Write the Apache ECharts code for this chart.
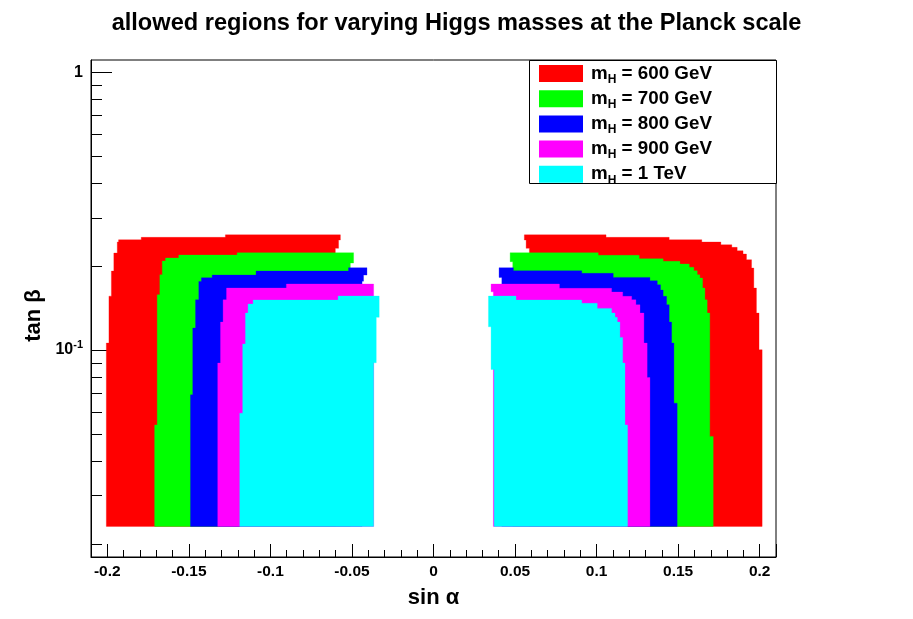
<!DOCTYPE html>
<html>
<head>
<meta charset="utf-8">
<script src="https://cdn.jsdelivr.net/npm/echarts@6/dist/echarts.min.js"></script>
<style>
html,body{margin:0;padding:0;background:#ffffff;}
#chart{width:913px;height:619px;}
</style>
</head>
<body>
<div id="chart"></div>
<script>
const FONT = '"Liberation Sans", Arial, Helvetica, sans-serif';

const titleText = 'allowed regions for varying Higgs masses at the Planck scale';
const xTitle = 'sin α';
const yTitle = 'tan β';

const xRange = [-0.21, 0.21];
const yRange = [0.018, 1.107];
const yMinorTicks = [0.02, 0.03, 0.04, 0.05, 0.06, 0.07, 0.08, 0.09, 0.2, 0.3, 0.4, 0.5, 0.6, 0.7, 0.8, 0.9];

const masses = ['600 GeV', '700 GeV', '800 GeV', '900 GeV', '1 TeV'];
const colors = ['#ff0000', '#00ff00', '#0000ff', '#ff00ff', '#00ffff'];

// outlines of the allowed regions, [sin alpha, tan beta]
const region600Left = [
  [-0.2006,0.0232],[-0.2006,0.1060],[-0.1990,0.1060],[-0.1990,0.1564],[-0.1975,0.1564],[-0.1975,0.1925],
  [-0.1960,0.1925],[-0.1960,0.2235],[-0.1939,0.2235],[-0.1939,0.2449],[-0.1931,0.2449],[-0.1931,0.2496],
  [-0.1792,0.2496],[-0.1792,0.2546],[-0.1276,0.2546],[-0.1276,0.2600],[-0.0571,0.2600],[-0.0571,0.2490],
  [-0.0582,0.2490],[-0.0582,0.2324],[-0.0602,0.2324],[-0.0602,0.0232]
];
const region600Right = [
  [0.0588,0.0232],[0.0588,0.2324],[0.0568,0.2324],[0.0568,0.2490],[0.0557,0.2490],[0.0557,0.2600],
  [0.1058,0.2600],[0.1058,0.2546],[0.1445,0.2546],[0.1445,0.2496],[0.1645,0.2496],[0.1645,0.2449],
  [0.1762,0.2449],[0.1762,0.2394],[0.1829,0.2394],[0.1829,0.2343],[0.1862,0.2343],[0.1862,0.2278],
  [0.1898,0.2278],[0.1898,0.2217],[0.1919,0.2217],[0.1919,0.2115],[0.1950,0.2115],[0.1950,0.1974],
  [0.1964,0.1974],[0.1964,0.1672],[0.1980,0.1672],[0.1980,0.1359],[0.1996,0.1359],[0.1996,0.1003],
  [0.2015,0.1003],[0.2015,0.0232]
];
const region700Left = [
  [-0.1710,0.0232],[-0.1710,0.0538],[-0.1694,0.0538],[-0.1694,0.1582],[-0.1678,0.1582],[-0.1678,0.1867],
  [-0.1663,0.1867],[-0.1663,0.2092],[-0.1643,0.2092],[-0.1643,0.2145],[-0.1562,0.2145],[-0.1562,0.2198],
  [-0.1204,0.2198],[-0.1204,0.2241],[-0.0490,0.2241],[-0.0490,0.2057],[-0.0510,0.2057],[-0.0510,0.0232]
];
const region700Right = [
  [0.0486,0.0232],[0.0486,0.2080],[0.0470,0.2080],[0.0470,0.2241],[0.1010,0.2241],[0.1010,0.2193],
  [0.1261,0.2193],[0.1261,0.2132],[0.1408,0.2132],[0.1408,0.2087],[0.1511,0.2087],[0.1511,0.2041],
  [0.1568,0.2041],[0.1568,0.1986],[0.1596,0.1986],[0.1596,0.1930],[0.1617,0.1930],[0.1617,0.1867],
  [0.1633,0.1867],[0.1633,0.1816],[0.1650,0.1816],[0.1650,0.1672],[0.1664,0.1672],[0.1664,0.1517],
  [0.1678,0.1517],[0.1678,0.1359],[0.1694,0.1359],[0.1694,0.0489],[0.1715,0.0489],[0.1715,0.0232]
];
const region800Left = [
  [-0.1490,0.0232],[-0.1490,0.0690],[-0.1476,0.0690],[-0.1476,0.1200],[-0.1459,0.1200],[-0.1459,0.1517],
  [-0.1439,0.1517],[-0.1439,0.1767],[-0.1423,0.1767],[-0.1423,0.1821],[-0.1357,0.1821],[-0.1357,0.1862],
  [-0.1088,0.1862],[-0.1088,0.1925],[-0.0521,0.1925],[-0.0521,0.1979],[-0.0408,0.1979],[-0.0408,0.1862],
  [-0.0429,0.1862],[-0.0429,0.1770],[-0.0438,0.1770],[-0.0438,0.0232]
];
const region800Right = [
  [0.0419,0.0232],[0.0419,0.1827],[0.0402,0.1827],[0.0402,0.1979],[0.0490,0.1979],[0.0490,0.1930],
  [0.0909,0.1930],[0.0909,0.1889],[0.1102,0.1889],[0.1102,0.1827],[0.1327,0.1827],[0.1327,0.1776],
  [0.1372,0.1776],[0.1372,0.1718],[0.1392,0.1718],[0.1392,0.1644],[0.1408,0.1644],[0.1408,0.1561],
  [0.1429,0.1561],[0.1429,0.1456],[0.1445,0.1456],[0.1445,0.1261],[0.1460,0.1261],[0.1460,0.1060],
  [0.1474,0.1060],[0.1474,0.0644],[0.1494,0.0644],[0.1494,0.0232]
];
const region900Left = [
  [-0.1323,0.0232],[-0.1323,0.0898],[-0.1306,0.0898],[-0.1306,0.1261],[-0.1290,0.1261],[-0.1290,0.1517],
  [-0.1269,0.1517],[-0.1269,0.1672],[-0.0902,0.1672],[-0.0902,0.1729],[-0.0367,0.1729],[-0.0367,0.0232]
];
const region900Right = [
  [0.0367,0.0232],[0.0367,0.1621],[0.0353,0.1621],[0.0353,0.1729],[0.0772,0.1729],[0.0772,0.1668],
  [0.1092,0.1668],[0.1092,0.1617],[0.1160,0.1617],[0.1160,0.1561],[0.1215,0.1561],[0.1215,0.1517],
  [0.1241,0.1517],[0.1241,0.1456],[0.1266,0.1456],[0.1266,0.1359],[0.1290,0.1359],[0.1290,0.1060],
  [0.1310,0.1060],[0.1310,0.0797],[0.1327,0.0797],[0.1327,0.0232]
];
const region1000Left = [
  [-0.1188,0.0232],[-0.1188,0.0593],[-0.1170,0.0593],[-0.1170,0.1051],[-0.1153,0.1051],[-0.1153,0.1359],
  [-0.1137,0.1359],[-0.1137,0.1464],[-0.1106,0.1464],[-0.1106,0.1514],[-0.0585,0.1514],[-0.0585,0.1565],
  [-0.0333,0.1565],[-0.0333,0.1312],[-0.0351,0.1312],[-0.0351,0.0900],[-0.0367,0.0900],[-0.0367,0.0232]
];
const region1000Right = [
  [0.0372,0.0232],[0.0372,0.0852],[0.0353,0.0852],[0.0353,0.1213],[0.0337,0.1213],[0.0337,0.1565],
  [0.0506,0.1565],[0.0506,0.1514],[0.0909,0.1514],[0.0909,0.1473],[0.1004,0.1473],[0.1004,0.1413],
  [0.1092,0.1413],[0.1092,0.1359],[0.1113,0.1359],[0.1113,0.1312],[0.1127,0.1312],[0.1127,0.1261],
  [0.1143,0.1261],[0.1143,0.1111],[0.1160,0.1111],[0.1160,0.0898],[0.1174,0.0898],[0.1174,0.0538],
  [0.1190,0.0538],[0.1190,0.0232]
];

const regionsByMass = [
  [region600Left, region600Right],
  [region700Left, region700Right],
  [region800Left, region800Right],
  [region900Left, region900Right],
  [region1000Left, region1000Right]
];

function regionRenderer(polys) {
  return function (params, api) {
    const pts = polys[params.dataIndex].map(function (p) { return api.coord(p); });
    return {
      type: 'polygon',
      shape: { points: pts },
      style: { fill: api.visual('color'), stroke: api.visual('color'), lineWidth: 0.3 }
    };
  };
}

const regionSeries = masses.map(function (m, i) {
  return {
    type: 'custom',
    name: m,
    coordinateSystem: 'cartesian2d',
    renderItem: regionRenderer(regionsByMass[i]),
    data: regionsByMass[i].map(function (p) { return p[0]; }),
    encode: { x: 0, y: 1 },
    itemStyle: { color: colors[i] },
    silent: true,
    z: 2
  };
});

const minorTickSeries = {
  type: 'custom',
  name: 'yMinorTicks',
  coordinateSystem: 'cartesian2d',
  data: yMinorTicks.map(function (v) { return [xRange[0], v]; }),
  encode: { x: 0, y: 1 },
  renderItem: function (params, api) {
    const p = api.coord([api.value(0), api.value(1)]);
    const y = Math.round(p[1]) + 0.5;
    return {
      type: 'line',
      shape: { x1: p[0], y1: y, x2: p[0] + 11, y2: y },
      style: { stroke: '#000', lineWidth: 1 }
    };
  },
  silent: true,
  z: 6
};

const chart = echarts.init(document.getElementById('chart'), null, { renderer: 'canvas' });

chart.setOption({
  animation: false,
  backgroundColor: '#ffffff',
  title: {
    text: titleText,
    left: 'center',
    top: 11,
    padding: 0,
    textStyle: { fontFamily: FONT, fontWeight: 'bold', fontSize: 23.6, color: '#000' }
  },
  grid: {
    left: 91, right: 137, top: 60, bottom: 62,
    show: true, borderColor: '#000', borderWidth: 1, backgroundColor: '#fff'
  },
  xAxis: {
    type: 'value',
    min: xRange[0],
    max: xRange[1],
    splitNumber: 8,
    axisLine: { show: true, onZero: false, lineStyle: { color: '#000', width: 1 } },
    axisTick: { show: true, inside: true, length: 13, lineStyle: { color: '#000', width: 1 } },
    minorTick: { show: true, splitNumber: 5, length: 7, lineStyle: { color: '#000', width: 1 } },
    splitLine: { show: false },
    minorSplitLine: { show: false },
    axisLabel: {
      showMinLabel: false, showMaxLabel: false,
      color: '#000', fontFamily: FONT, fontWeight: 'bold', fontSize: 15.5, margin: 7
    },
    name: xTitle,
    nameLocation: 'middle',
    nameGap: 30,
    nameTextStyle: { fontFamily: FONT, fontWeight: 'bold', fontSize: 22, color: '#000' }
  },
  yAxis: {
    type: 'log',
    logBase: 10,
    min: yRange[0],
    max: yRange[1],
    axisLine: { show: true, onZero: false, lineStyle: { color: '#000', width: 1 } },
    axisTick: { show: true, inside: true, length: 21, lineStyle: { color: '#000', width: 1 } },
    splitLine: { show: false },
    axisLabel: {
      showMinLabel: false, showMaxLabel: false,
      margin: 8,
      formatter: function (v) {
        if (Math.abs(v - 1) < 1e-6) return '{n|1}';
        if (Math.abs(v - 0.1) < 1e-7) return '{n|10}{s|-1}';
        return '';
      },
      rich: {
        n: { fontFamily: FONT, fontWeight: 'bold', fontSize: 16, color: '#000', lineHeight: 22, verticalAlign: 'middle' },
        s: { fontFamily: FONT, fontWeight: 'bold', fontSize: 11, color: '#000', lineHeight: 11, verticalAlign: 'top' }
      }
    },
    name: yTitle,
    nameLocation: 'middle',
    nameGap: 46,
    nameRotate: 90,
    nameTextStyle: { fontFamily: FONT, fontWeight: 'bold', fontSize: 22, color: '#000', padding: [0, 14, 0, 0] }
  },
  legend: {
    orient: 'vertical',
    left: 539,
    top: 64,
    padding: 0,
    itemWidth: 44,
    itemHeight: 17,
    itemGap: 3.7,
    icon: 'rect',
    selectedMode: false,
    z: 10,
    data: masses,
    formatter: function (name) { return '{m|m}{h|H}{t| = ' + name + '}'; },
    textStyle: {
      color: '#000', fontFamily: FONT, fontWeight: 'bold', fontSize: 18.8,
      rich: {
        m: { fontFamily: FONT, fontWeight: 'bold', fontSize: 18.8, color: '#000', lineHeight: 24, verticalAlign: 'middle', padding: [0, 0, 0, 3] },
        h: { fontFamily: FONT, fontWeight: 'bold', fontSize: 12, color: '#000', lineHeight: 10, verticalAlign: 'bottom' },
        t: { fontFamily: FONT, fontWeight: 'bold', fontSize: 18.8, color: '#000', lineHeight: 24, verticalAlign: 'middle' }
      }
    }
  },
  graphic: [{
    type: 'rect',
    z: 9,
    shape: { x: 529.5, y: 60.5, width: 247, height: 123 },
    style: { fill: '#fff', stroke: '#000', lineWidth: 1 }
  }],
  series: regionSeries.concat([minorTickSeries])
});
</script>
</body>
</html>
